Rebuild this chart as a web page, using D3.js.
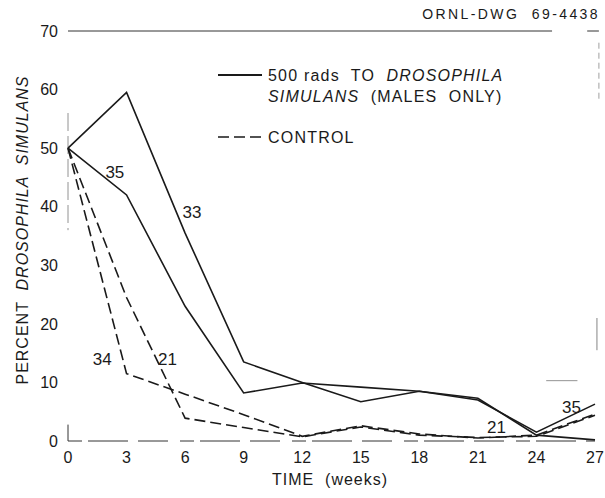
<!DOCTYPE html>
<html><head><meta charset="utf-8">
<script src="https://cdn.jsdelivr.net/npm/d3@7"></script>
<style>
html,body{margin:0;padding:0;background:#fff;}
svg{display:block;}
text{font-family:"Liberation Sans",Arial,sans-serif;fill:#1a1a1a;white-space:pre;}
</style></head>
<body>
<svg id="chart" width="605" height="498"></svg>
<script>
// ---- data ----
const weeks = [0, 3, 6, 9, 12, 15, 18, 21, 24, 27];
const irradiatedA = [50, 59.5, 35.5, 13.5, 10, 6.7, 8.5, 7, 1.5, 6.3];
const irradiatedB = [50, 42, 23, 8.2, 9.9, 9.2, 8.5, 7.3, 1, 0.2];
const controlA = [50, 11.5, 8, 4.5, 0.8, 2.6, 1.2, 0.5, 1, 4.6];
const controlB = [50, 24.5, 3.9, 2.3, 0.7, 2.4, 1, 0.6, 0.8, 4.4];
const xTicks = [0, 3, 6, 9, 12, 15, 18, 21, 24, 27];
const yTicks = [0, 10, 20, 30, 40, 50, 60, 70];
// sample-size annotations: [label, week, percent]
const annLabels = ["35", "33", "34", "21", "21", "35"];
const annWeeks = [2.4, 6.35, 1.75, 5.1, 21.95, 25.8];
const annValues = [46, 39.1, 14, 14, 2.4, 5.8];

const svg = d3.select("#chart");
const x = d3.scaleLinear().domain([0, 27]).range([68, 595]);
const y = d3.scaleLinear().domain([0, 70]).range([441, 31]);

// frame fragments (faint, as in the drawing)
const frame = svg.append("g").attr("stroke", "#333").attr("fill", "none");
frame.append("line").attr("x1", x(0)).attr("x2", x(24.8)).attr("y1", y(70)).attr("y2", y(70)).attr("stroke-width", 1);
frame.append("line").attr("x1", x(26.6)).attr("x2", x(27.2)).attr("y1", y(70)).attr("y2", y(70)).attr("stroke-width", 1);
frame.append("line").attr("x1", x(0)).attr("x2", x(27)).attr("y1", y(0)).attr("y2", y(0))
  .attr("stroke-width", 1).attr("stroke-dasharray", "14,6,40,10,30,12");
frame.append("line").attr("x1", x(0)).attr("x2", x(0)).attr("y1", y(0)).attr("y2", y(2.8)).attr("stroke-width", 1);
frame.append("line").attr("x1", x(0)).attr("x2", x(0)).attr("y1", y(56)).attr("y2", y(36))
  .attr("stroke-width", 0.8).attr("stroke", "#777").attr("stroke-dasharray", "18,5");
frame.append("line").attr("x1", x(27.2)).attr("x2", x(27.2)).attr("y1", y(68)).attr("y2", y(58))
  .attr("stroke-width", 0.8).attr("stroke", "#888").attr("stroke-dasharray", "6,4");
frame.append("line").attr("x1", x(27.1)).attr("x2", x(27.1)).attr("y1", y(21)).attr("y2", y(15.5))
  .attr("stroke-width", 0.8).attr("stroke", "#666");
frame.append("line").attr("x1", x(24.5)).attr("x2", x(26.1)).attr("y1", y(10.3)).attr("y2", y(10.3))
  .attr("stroke-width", 0.8).attr("stroke", "#777");

// axis tick labels
svg.append("g").selectAll("text").data(yTicks).join("text")
  .attr("x", 58).attr("y", d => y(d)).attr("dy", "0.36em")
  .attr("text-anchor", "end").attr("font-size", 16).text(d => d);
svg.append("g").selectAll("text").data(xTicks).join("text")
  .attr("x", d => x(d)).attr("y", 457).attr("dy", "0.36em")
  .attr("text-anchor", "middle").attr("font-size", 16).text(d => d);

// axis titles
svg.append("text").attr("x", 330).attr("y", 479).attr("dy", "0.36em")
  .attr("text-anchor", "middle").attr("font-size", 16).attr("letter-spacing", 1)
  .text("TIME  (weeks)");
const yt = svg.append("text").attr("transform", "translate(22,230) rotate(-90)")
  .attr("text-anchor", "middle").attr("dy", "0.36em").attr("font-size", 16)
  .attr("letter-spacing", 1);
yt.append("tspan").text("PERCENT  ");
yt.append("tspan").attr("font-style", "italic").text("DROSOPHILA  SIMULANS");

svg.append("text").attr("x", 600).attr("y", 14).attr("dy", "0.36em")
  .attr("text-anchor", "end").attr("font-size", 14).attr("letter-spacing", 2.4)
  .text("ORNL-DWG  69-4438");

// lines
const line = d3.line().x((d, i) => x(weeks[i])).y(d => y(d));
const series = [
  {v: irradiatedA, dash: null},
  {v: irradiatedB, dash: null},
  {v: controlA, dash: "11,5"},
  {v: controlB, dash: "11,5"}
];
svg.append("g").selectAll("path").data(series).join("path")
  .attr("d", d => line(d.v)).attr("fill", "none").attr("stroke", "#1a1a1a")
  .attr("stroke-width", 1.6).attr("stroke-dasharray", d => d.dash);

// annotations
svg.append("g").selectAll("text").data(annLabels).join("text")
  .attr("x", (d, i) => x(annWeeks[i])).attr("y", (d, i) => y(annValues[i]))
  .attr("dy", "0.36em").attr("text-anchor", "middle").attr("font-size", 17)
  .text(d => d);

// legend
const lg = svg.append("g").attr("font-size", 16).attr("letter-spacing", 1.2);
lg.append("line").attr("x1", 218).attr("x2", 262).attr("y1", 75).attr("y2", 75)
  .attr("stroke", "#1a1a1a").attr("stroke-width", 2);
const t1 = lg.append("text").attr("x", 268).attr("y", 75).attr("dy", "0.36em");
t1.append("tspan").text("500 rads  TO  ");
t1.append("tspan").attr("font-style", "italic").text("DROSOPHILA");
const t2 = lg.append("text").attr("x", 268).attr("y", 96).attr("dy", "0.36em");
t2.append("tspan").attr("font-style", "italic").text("SIMULANS");
t2.append("tspan").text("  (MALES  ONLY)");
lg.append("line").attr("x1", 218).attr("x2", 262).attr("y1", 137).attr("y2", 137)
  .attr("stroke", "#1a1a1a").attr("stroke-width", 1.6).attr("stroke-dasharray", "11,5");
lg.append("text").attr("x", 268).attr("y", 137).attr("dy", "0.36em").text("CONTROL");
</script>
</body></html>
